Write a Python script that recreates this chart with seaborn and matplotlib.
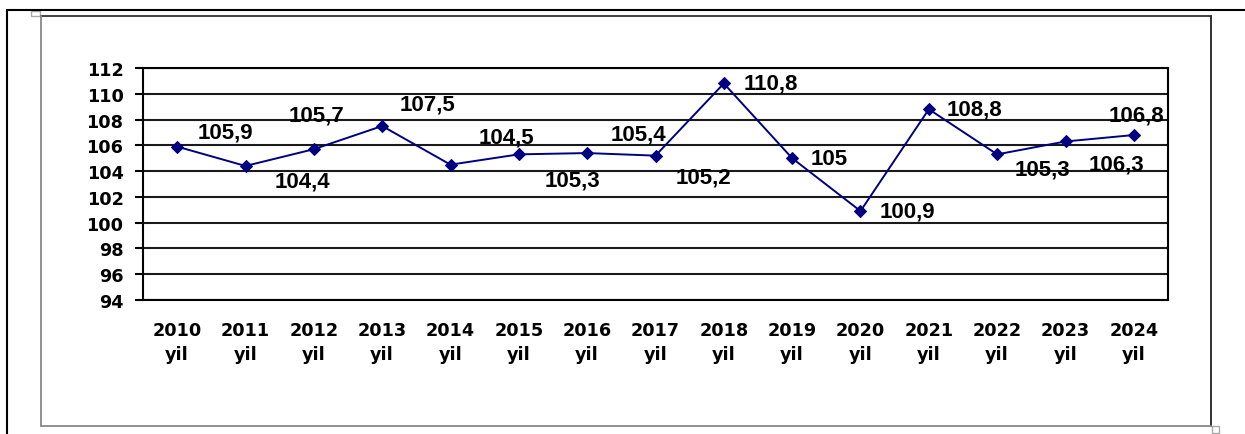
import matplotlib
matplotlib.use("Agg")
import matplotlib.pyplot as plt
import seaborn as sns
import pandas as pd
from matplotlib.lines import Line2D
from matplotlib.patches import Rectangle

years = ["2010", "2011", "2012", "2013", "2014", "2015", "2016", "2017",
         "2018", "2019", "2020", "2021", "2022", "2023", "2024"]
values = [105.9, 104.4, 105.7, 107.5, 104.5, 105.3, 105.4, 105.2,
          110.8, 105.0, 100.9, 108.8, 105.3, 106.3, 106.8]
value_labels = ["105,9", "104,4", "105,7", "107,5", "104,5", "105,3", "105,4", "105,2",
                "110,8", "105", "100,9", "108,8", "105,3", "106,3", "106,8"]
tick_labels = [f"{y}\nyil" for y in years]
y_ticks = list(range(94, 113, 2))

# label offsets in pixels (dx right, dy down) - layout only
label_offsets = [(48, -15), (57, 15), (3, -34), (45, -22), (56, -28), (54, 26),
                 (51, -19), (48, 21), (47, 0), (37, 0), (47, 0), (46, 0),
                 (45, 15), (51, 23), (3, -20)]

sns.set_theme(style="white")
plt.rcParams["font.family"] = ["DejaVu Sans"]

fig = plt.figure(figsize=(12.45, 4.35), dpi=100)
ax = fig.add_axes([143 / 1245, 1 - 301 / 435, (1168 - 143) / 1245, (301 - 69) / 435])

df = pd.DataFrame({"pos": range(len(years)), "value": values})
sns.lineplot(data=df, x="pos", y="value", ax=ax, color="#000080", linewidth=1.4,
             marker="D", markersize=6.5, markeredgecolor="#000080", zorder=5)

ax.set_xlim(-0.5, len(years) - 0.5)
ax.set_ylim(94, 112)
ax.set_yticks(y_ticks)
ax.set_yticklabels([str(t) for t in y_ticks], fontsize=12.7, fontweight="bold", color="black")
ax.set_xticks(range(len(years)))
ax.set_xticklabels(tick_labels, fontsize=12.7, fontweight="bold", color="black",
                   linespacing=1.45)
ax.set_xticks([i - 0.5 for i in range(len(years) + 1)], minor=True)
ax.tick_params(axis="x", which="major", length=0, pad=15)
ax.tick_params(axis="x", which="minor", length=7, width=1.5, color="black", direction="out")
ax.tick_params(axis="y", which="major", length=6, width=1.5, color="black", direction="out",
               left=True, pad=8)
ax.set_xlabel("")
ax.set_ylabel("")
ax.grid(axis="y", color="#1a1a1a", linewidth=1.5)
ax.set_axisbelow(True)
for side in ["left", "bottom", "right", "top"]:
    ax.spines[side].set_visible(True)
    ax.spines[side].set_color("black")
    ax.spines[side].set_linewidth(1.5)

for i, (v, lab) in enumerate(zip(values, value_labels)):
    dx, dy = label_offsets[i]
    ax.annotate(lab, (i, v), xytext=(dx, -dy), textcoords="offset pixels",
                ha="center", va="center", fontsize=16, fontweight="bold",
                family="Liberation Sans", color="black", zorder=6)

# outer frame lines
W, H = 1245, 435
fig.add_artist(Line2D([7 / W, 1], [1 - 11 / H, 1 - 11 / H], color="black", linewidth=1.5))
fig.add_artist(Line2D([7 / W, 7 / W], [0, 1 - 11 / H], color="black", linewidth=1.5))
# chart box
x0, x1 = 41 / W, 1211 / W
y0, y1 = 1 - 427 / H, 1 - 17 / H
fig.add_artist(Line2D([x0, x1], [y1, y1], color="#333333", linewidth=1.3))
fig.add_artist(Line2D([x1, x1], [y0, y1], color="#222222", linewidth=1.3))
fig.add_artist(Line2D([x0, x0], [y0, y1], color="#888888", linewidth=1.3))
fig.add_artist(Line2D([x0, x1], [y0, y0], color="#888888", linewidth=1.3))
fig.add_artist(Rectangle((1212 / W, 1 - 434 / H), 7 / W, 7 / H, fill=False,
                         edgecolor="#aaaaaa", linewidth=1))
fig.add_artist(Rectangle((31 / W, 1 - 17 / H), 9 / W, 5 / H, fill=False,
                         edgecolor="#aaaaaa", linewidth=1))

fig.savefig("out.png", dpi=100, facecolor="white")
